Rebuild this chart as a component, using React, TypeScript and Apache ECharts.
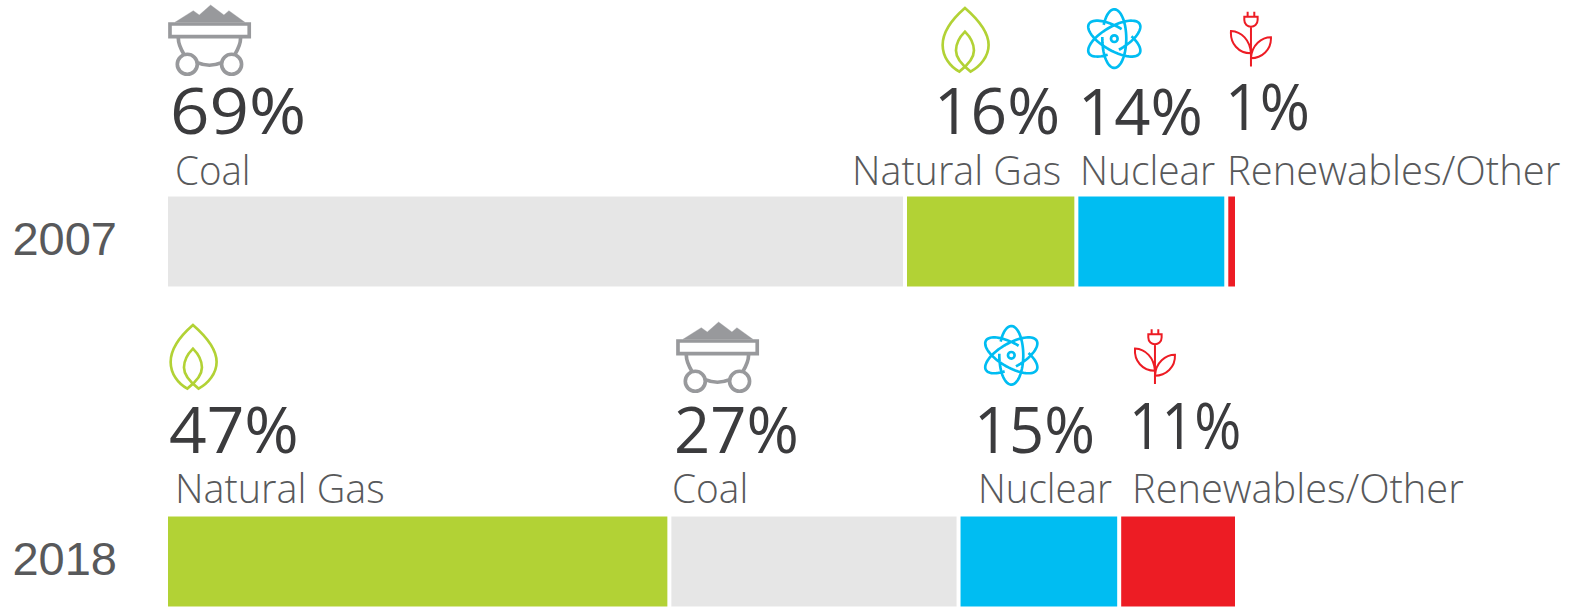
import React, { useEffect, useRef } from "react";
import * as echarts from "echarts";

const years = ["2007", "2018"];
const names2007 = ["Coal", "Natural Gas", "Nuclear", "Renewables/Other"];
const values2007 = [69, 16, 14, 1];
const names2018 = ["Natural Gas", "Coal", "Nuclear", "Renewables/Other"];
const values2018 = [47, 27, 15, 11];

const barColors: Record<string, string> = {
  Coal: "#e6e6e6",
  "Natural Gas": "#b2d235",
  Nuclear: "#00bdf2",
  "Renewables/Other": "#ed1c24",
};
const iconColors: Record<string, string> = {
  Coal: "#98999c",
  "Natural Gas": "#b2d235",
  Nuclear: "#00bdf2",
  "Renewables/Other": "#ed1c24",
};

// left edge and baseline and x-stretch of number; the same for the label; icon offset
const layout2007 = [
  { nx: 170, nb: 133, nsx: 1.08, lx: 175, lb: 184, lsx: 1.04, dx: 0, dy: 0 },
  { nx: 934, nb: 133, nsx: 1.0, lx: 852, lb: 184, lsx: 1.067, dx: 0, dy: 0 },
  { nx: 1078, nb: 133, nsx: 0.99, lx: 1080, lb: 184, lsx: 1.05, dx: 0, dy: 0 },
  { nx: 1225, nb: 128, nsx: 0.95, lx: 1227, lb: 184, lsx: 1.08, dx: 0, dy: 0 },
];
const layout2018 = [
  { nx: 169, nb: 451, nsx: 1.03, lx: 175, lb: 502, lsx: 1.07, dx: -772, dy: 317 },
  { nx: 674, nb: 451, nsx: 0.99, lx: 672, lb: 502, lsx: 1.05, dx: 508, dy: 317 },
  { nx: 974, nb: 451, nsx: 0.96, lx: 978, lb: 502, lsx: 1.04, dx: -103, dy: 316.7 },
  { nx: 1129, nb: 447, nsx: 0.89, lx: 1132, lb: 502, lsx: 1.075, dx: -96, dy: 317.5 },
];

function ellipseArc(rotDeg: number) {
  const rx = 36;
  const ry = 88;
  const r = (rotDeg * Math.PI) / 180;
  const cx = 118;
  const cy = 116;
  const pts: string[] = [];
  for (let t = 208; t <= 547; t += 5) {
    const a = (t * Math.PI) / 180;
    const px = rx * Math.cos(a);
    const py = ry * Math.sin(a);
    const x = cx + px * Math.cos(r) - py * Math.sin(r);
    const y = cy + px * Math.sin(r) + py * Math.cos(r);
    pts.push(`${pts.length ? "L" : "M"}${x.toFixed(1)},${y.toFixed(1)}`);
  }
  return pts.join(" ");
}

const atomPath =
  ellipseArc(0) + " " + ellipseArc(120) + " " + ellipseArc(240) +
  " M128,116 A10,10 0 1 1 108,116 A10,10 0 1 1 128,116";

echarts.graphic.registerShape("cartPile", echarts.graphic.extendPath("M75,67 L130,32 L148,45 L182,15 L222,45 L237,32 L285,67 Z", {}) as any);
echarts.graphic.registerShape(
  "cartBody",
  echarts.graphic.extendPath(
    "M60,72 H298 V110 H60 Z M85,115 C85,135 95,152 103,165 M272,115 C272,135 262,152 254,165 M142,193 A30,30 0 1 1 82,193 A30,30 0 1 1 142,193 M275,193 A30,30 0 1 1 215,193 A30,30 0 1 1 275,193 M142,188 C165,198 192,198 215,188",
    {}
  ) as any
);
echarts.graphic.registerShape(
  "flame",
  echarts.graphic.extendPath(
    "M118,215 C90,200 68,170 68,135 C68,90 105,50 135,24 C165,50 206,90 206,135 C206,170 180,200 152,215 C125,195 108,175 108,152 C108,130 120,110 135,95 C150,110 162,130 162,152 C162,175 145,195 118,215 Z",
    {}
  ) as any
);
echarts.graphic.registerShape("atom", echarts.graphic.extendPath(atomPath, {}) as any);
echarts.graphic.registerShape(
  "plant",
  echarts.graphic.extendPath(
    "M93,65 V185 M83,20 V35 M103,20 V35 M73,35 H113 V45 C113,58 103,65 93,65 C83,65 73,58 73,45 Z M33,78 C65,80 90,105 93,145 C55,145 30,115 33,78 Z M153,97 C125,97 95,120 93,160 C125,160 155,135 153,97 Z",
    {}
  ) as any
);

function icon(name: string, dx: number, dy: number): any[] {
  const c = iconColors[name];
  const s = 1 / 3;
  if (name === "Coal") {
    const base = { x: 150 + dx, y: dy, scaleX: s, scaleY: s, silent: true };
    return [
      { type: "cartPile", ...base, style: { fill: c, stroke: c, lineWidth: 1 } },
      { type: "cartBody", ...base, style: { fill: "none", stroke: c, lineWidth: 11 } },
    ];
  }
  if (name === "Natural Gas") {
    return [{ type: "flame", x: 920 + dx, y: dy, scaleX: s, scaleY: s, silent: true, style: { fill: "none", stroke: c, lineWidth: 8 } }];
  }
  if (name === "Nuclear") {
    return [{ type: "atom", x: 1075 + dx, y: dy, scaleX: s, scaleY: s, silent: true, style: { fill: "none", stroke: c, lineWidth: 8 } }];
  }
  return [{ type: "plant", x: 1220 + dx, y: 5 + dy, scaleX: s, scaleY: s, silent: true, style: { fill: "none", stroke: c, lineWidth: 6 } }];
}

const numberSize = 64;
const labelSize = 37;
const labelStretchY = 1.08;

function texts(names: string[], values: number[], layout: typeof layout2007): any[] {
  const out: any[] = [];
  names.forEach((name, i) => {
    const p = layout[i];
    out.push(...icon(name, p.dx, p.dy));
    out.push({
      type: "text",
      x: p.nx,
      y: p.nb - numberSize * 0.36,
      scaleX: p.nsx,
      silent: true,
      style: {
        text: values[i] + "%",
        fontFamily: "Open Sans",
        fontWeight: 400,
        fontSize: numberSize,
        fill: "#3b3b3d",
        verticalAlign: "middle",
      },
    });
    out.push({
      type: "text",
      x: p.lx,
      y: p.lb - labelSize * 0.36 * labelStretchY,
      scaleX: p.lsx,
      scaleY: labelStretchY,
      silent: true,
      style: {
        text: name,
        fontFamily: "Open Sans",
        fontWeight: 300,
        fontSize: labelSize,
        fill: "#58595b",
        verticalAlign: "middle",
      },
    });
  });
  return out;
}

export default function App() {
  const ref = useRef<HTMLDivElement>(null);
  useEffect(() => {
    document.body.style.margin = "0";
    const chart = echarts.init(ref.current!, undefined, { renderer: "svg" });
    chart.setOption({
      animation: false,
      backgroundColor: "#ffffff",
      grid: { left: 166, width: 1071, top: 241.5, height: 320 },
      xAxis: { type: "value", min: 0, max: 100, show: false },
      yAxis: {
        type: "category",
        data: years,
        inverse: true,
        boundaryGap: false,
        axisLine: { show: false },
        axisTick: { show: false },
        splitLine: { show: false },
        axisLabel: {
          margin: 49,
          fontFamily: "Liberation Sans",
          fontSize: 47,
          color: "#58595b",
          verticalAlign: "bottom",
          lineHeight: 6,
        },
      },
      series: [0, 1, 2, 3].map((rank) => ({
        type: "bar",
        stack: "share",
        clip: false,
        barWidth: 94,
        silent: true,
        itemStyle: { borderColor: "#ffffff", borderWidth: 2 },
        data: [
          { value: values2007[rank], name: names2007[rank], itemStyle: { color: barColors[names2007[rank]] } },
          { value: values2018[rank], name: names2018[rank], itemStyle: { color: barColors[names2018[rank]] } },
        ],
      })),
      graphic: {
        elements: [
          ...texts(names2007, values2007, layout2007),
          ...texts(names2018, values2018, layout2018),
        ],
      },
    });
    return () => chart.dispose();
  }, []);
  return <div ref={ref} style={{ width: 1575, height: 607 }} />;
}
